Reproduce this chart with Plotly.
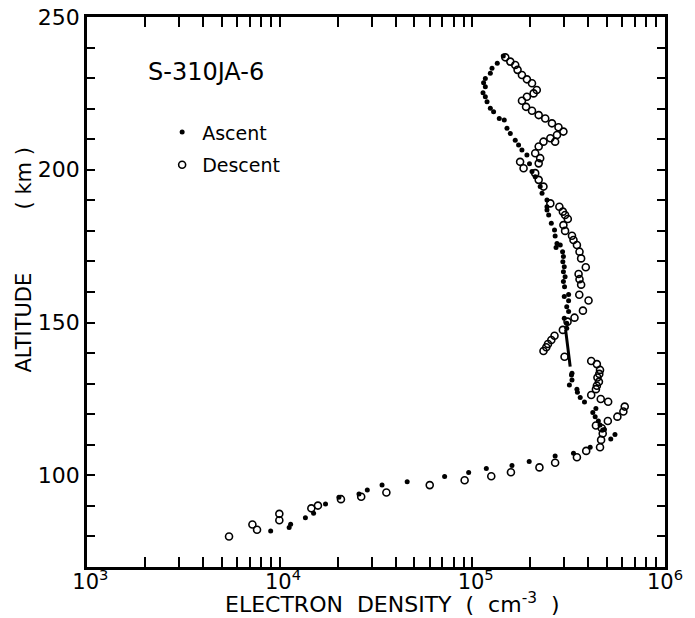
import plotly.graph_objects as go

# Rocket S-310JA-6 electron density profile (cm^-3) vs altitude (km)
asc_density = [
    1.447e5, 1.347e5, 1.265e5, 1.240e5, 1.168e5, 1.144e5, 1.168e5, 1.136e5, 1.168e5, 1.192e5,
    1.240e5, 1.289e5, 1.380e5, 1.465e5, 1.513e5, 1.574e5, 1.670e5, 1.738e5, 1.809e5, 1.920e5,
    1.98e5, 2.04e5, 2.12e5, 2.25e5, 2.30e5, 2.44e5, 2.44e5, 2.44e5, 2.49e5, 2.57e5, 2.67e5,
    2.69e5, 2.75e5, 2.86e5, 2.72e5, 2.94e5, 2.97e5, 2.95e5, 3.00e5, 2.97e5, 3.03e5,
    2.97e5, 3.01e5, 3.16e5, 3.00e5, 3.16e5, 3.09e5, 3.16e5, 3.00e5, 3.09e5, 3.09e5,
    3.29e5, 3.27e5, 3.29e5, 3.19e5, 3.49e5, 3.51e5, 3.63e5, 3.82e5, 4.38e5, 4.22e5,
    4.34e5, 4.51e5, 4.60e5, 4.75e5, 4.85e5, 5.50e5, 5.23e5, 4.09e5, 3.35e5, 2.69e5,
    1.973e5, 1.606e5, 1.182e5, 9.57e4, 7.18e4, 4.59e4, 3.40e4, 2.85e4, 2.58e4, 2.03e4,
    1.73e4, 1.50e4, 1.36e4, 1.14e4, 1.12e4, 8.98e3,
]
asc_altitude = [
    237.2, 234.9, 233.2, 231.6, 229.9, 228.5, 227.2, 225.2, 223.9, 222.3,
    220.1, 219.0, 216.8, 216.3, 213.6, 211.9, 209.7, 208.1, 206.5, 204.8,
    202.0, 199.4, 197.7, 194.5, 192.3, 190.1, 187.9, 186.8, 185.2, 182.5, 180.3,
    178.3, 175.9, 175.4, 174.6, 173.2, 171.6, 169.9, 168.3, 166.6, 165.0,
    163.4, 161.7, 159.2, 158.5, 157.1, 155.2, 153.6, 151.4, 149.8, 148.1,
    133.4, 132.8, 131.2, 129.6, 128.2, 127.2, 125.5, 124.0, 121.9, 120.6,
    119.2, 117.8, 116.5, 114.8, 115.0, 113.4, 111.9, 109.2, 107.2, 106.3,
    104.5, 103.2, 102.2, 100.9, 99.6, 97.9, 96.8, 95.2, 93.9, 92.8,
    90.6, 87.6, 86.1, 84.0, 82.9, 81.8,
]

# continuous ascent segment between the discrete samples
asc_seg_density = [3.05e5, 3.22e5]
asc_seg_altitude = [147.6, 135.6]

desc_density = [
    1.483e5, 1.574e5, 1.670e5, 1.717e5, 1.809e5, 1.920e5, 2.04e5, 2.16e5, 2.08e5, 1.92e5,
    1.81e5, 1.90e5, 2.04e5, 2.21e5, 2.39e5, 2.59e5, 2.80e5, 2.97e5, 2.75e5, 2.54e5,
    2.34e5, 2.21e5, 2.12e5, 2.25e5, 2.21e5, 2.69e5, 1.77e5, 1.845e5, 2.12e5, 2.21e5,
    2.34e5, 2.54e5, 2.83e5, 2.95e5, 3.03e5, 3.13e5, 2.97e5, 3.03e5, 3.29e5, 3.35e5,
    3.49e5, 3.60e5, 3.67e5, 3.88e5, 3.56e5, 3.60e5, 3.67e5, 3.59e5, 4.01e5, 3.75e5,
    3.39e5, 3.12e5, 2.95e5, 2.67e5, 2.57e5, 2.47e5, 2.42e5, 2.34e5, 3.01e5, 4.14e5,
    4.43e5, 4.60e5, 4.56e5, 4.46e5, 4.54e5, 4.43e5, 4.38e5, 4.14e5, 4.64e5, 5.07e5,
    6.18e5, 6.08e5, 5.66e5, 5.05e5, 4.38e5, 4.70e5, 4.75e5, 4.66e5, 4.60e5, 3.90e5,
    3.49e5, 2.69e5, 2.23e5, 1.586e5, 1.254e5, 9.12e4, 6.01e4, 3.58e4, 2.65e4, 2.08e4,
    1.58e4, 1.46e4, 9.96e3, 9.96e3, 7.22e3, 7.63e3, 5.46e3,
]
desc_altitude = [
    236.8, 235.4, 234.3, 232.7, 231.0, 229.6, 228.3, 226.1, 225.0, 223.9,
    222.6, 220.6, 219.3, 217.9, 216.8, 215.2, 213.9, 212.5, 211.4, 210.3,
    209.2, 207.6, 205.4, 203.8, 202.1, 209.2, 202.6, 200.5, 198.9, 196.7,
    194.5, 189.0, 187.9, 186.3, 185.2, 183.9, 181.9, 180.0, 178.4, 177.0,
    175.4, 173.2, 171.0, 168.1, 165.9, 164.2, 162.4, 159.1, 157.2, 153.9,
    151.6, 150.3, 147.6, 145.7, 144.3, 143.0, 141.9, 140.7, 138.8, 137.4,
    136.4, 134.5, 133.2, 132.0, 130.6, 129.3, 128.2, 126.3, 125.0, 124.1,
    122.5, 120.9, 119.2, 117.8, 116.3, 115.4, 113.7, 111.6, 109.2, 108.0,
    105.9, 104.1, 102.6, 101.0, 99.7, 98.4, 96.8, 94.4, 93.0, 92.2,
    90.1, 89.2, 87.4, 85.3, 83.9, 82.2, 80.0,
]

# axis ticks: minor ticks every 1..9 per decade, labels at decades only
x_tickvals = [m * 10 ** e for e in (3, 4, 5) for m in range(1, 10)] + [1e6]
x_ticktext = [("\u00a010<sup>%d</sup>" % e if m == 1 else " ") for e in (3, 4, 5) for m in range(1, 10)] + ["10<sup>6</sup>"]
y_tickvals = list(range(70, 251, 10))
y_ticktext = [str(v) if v % 50 == 0 else " " for v in y_tickvals]

FONT = "DejaVu Sans"

fig = go.Figure()
fig.add_trace(go.Scatter(
    x=asc_density, y=asc_altitude, mode="markers", name="Ascent",
    marker=dict(symbol="circle", size=5, color="black"),
    legendgroup="a",
))
fig.add_trace(go.Scatter(
    x=asc_seg_density, y=asc_seg_altitude, mode="lines", showlegend=False,
    line=dict(color="black", width=3),
))
fig.add_trace(go.Scatter(
    x=desc_density, y=desc_altitude, mode="markers", name="Descent",
    marker=dict(symbol="circle-open", size=7, color="black", line=dict(width=1.6)),
    legendgroup="d",
))

fig.update_layout(
    width=695, height=618,
    margin=dict(l=87, r=30, t=17, b=51),
    paper_bgcolor="white", plot_bgcolor="white",
    font=dict(family=FONT, color="black"),
    legend=dict(
        x=0.13, y=0.825, xanchor="left", yanchor="top",
        font=dict(family=FONT, size=19, color="black"),
        bgcolor="rgba(0,0,0,0)", traceorder="grouped", tracegroupgap=5,
        itemsizing="trace",
    ),
    xaxis=dict(
        type="log", range=[3, 6],
        tickmode="array", tickvals=x_tickvals, ticktext=x_ticktext,
        ticks="inside", ticklen=10, tickwidth=1.5, tickcolor="black",
        showline=True, linewidth=2.5, linecolor="black", mirror="ticks",
        showgrid=False, zeroline=False, tickangle=0, automargin=False,
        tickfont=dict(family=FONT, size=21, color="black"),
        ticklabelstandoff=-6,
    ),
    yaxis=dict(
        range=[70, 250],
        tickmode="array", tickvals=y_tickvals, ticktext=y_ticktext,
        ticks="inside", ticklen=8, tickwidth=1.5, tickcolor="black",
        showline=True, linewidth=2.5, linecolor="black", mirror="ticks",
        showgrid=False, zeroline=False, automargin=False,
        tickfont=dict(family=FONT, size=22, color="black"),
    ),
    annotations=[
        dict(text="S-310JA-6", x=0.2067, y=0.9, xref="paper", yref="paper",
             xanchor="center", yanchor="middle", showarrow=False,
             font=dict(family=FONT, size=24, color="black")),
        dict(text="ELECTRON\u00a0\u00a0DENSITY\u00a0\u00a0(\u00a0\u00a0cm<sup>-3</sup>\u00a0\u00a0)",
             x=0.529, y=-0.066, xref="paper", yref="paper",
             xanchor="center", yanchor="middle", showarrow=False,
             font=dict(family=FONT, size=22, color="black")),
        dict(text="ALTITUDE", x=-0.109, y=0.4445, xref="paper", yref="paper",
             xanchor="center", yanchor="middle", showarrow=False, textangle=-90,
             font=dict(family=FONT, size=21, color="black")),
        dict(text="(\u00a0km\u00a0)", x=-0.109, y=0.7064, xref="paper", yref="paper",
             xanchor="center", yanchor="middle", showarrow=False, textangle=-90,
             font=dict(family=FONT, size=21, color="black")),
    ],
)

fig.write_html("out.html")
